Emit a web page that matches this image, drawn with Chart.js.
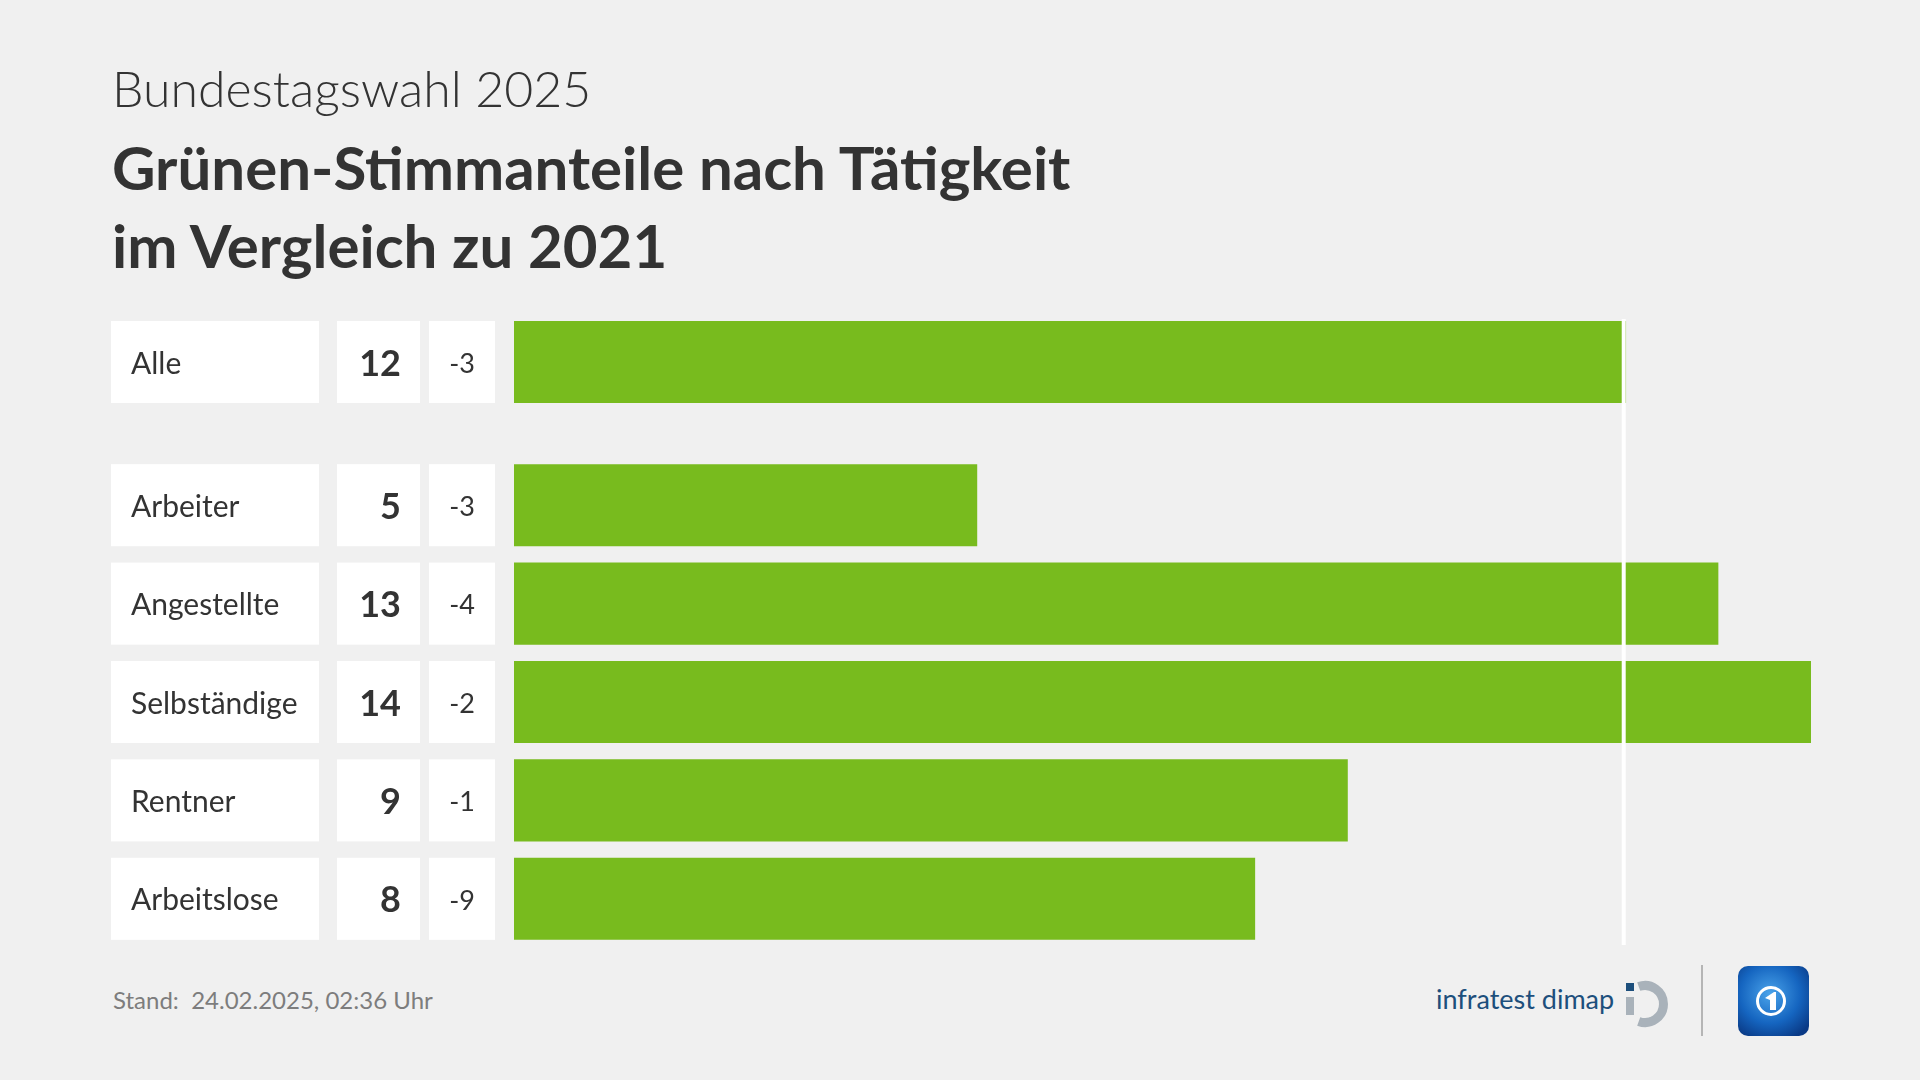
<!DOCTYPE html>
<html lang="de">
<head>
<meta charset="utf-8">
<title>Grünen-Stimmanteile nach Tätigkeit</title>
<script src="https://cdn.jsdelivr.net/npm/chart.js@4.4.1/dist/chart.umd.min.js"></script>
<style>
  body {
    margin: 0;
    width: 1920px;
    height: 1080px;
    background: #f0f0f0;
    font-family: Lato, "Noto Sans", sans-serif;
    color: #333;
    position: relative;
    overflow: hidden;
  }
  .subtitle {
    position: absolute;
    left: 112px;
    top: 58px;
    font-size: 50px;
    font-weight: 300;
    line-height: 60px;
  }
  .title {
    position: absolute;
    left: 112px;
    top: 128px;
    font-size: 60px;
    font-weight: 700;
    line-height: 78px;
  }
  .chart-box {
    position: absolute;
    left: 111px;
    width: 1700px;
  }
  #boxAlle { top: 313px; height: 143px; }
  #boxGroups { top: 456px; height: 492px; }
  .stand {
    position: absolute;
    left: 113px;
    top: 985px;
    font-size: 24px;
    color: #7d7d7d;
  }
  .logo {
    position: absolute;
    left: 1420px;
    top: 955px;
  }
</style>
</head>
<body>
<div class="subtitle">Bundestagswahl 2025</div>
<div class="title">Grünen-Stimmanteile nach Tätigkeit<br>im Vergleich zu 2021</div>

<div class="chart-box" id="boxAlle"><canvas id="chartAlle"></canvas></div>
<div class="chart-box" id="boxGroups"><canvas id="chartGroups"></canvas></div>

<div class="stand">Stand:&nbsp; 24.02.2025, 02:36 Uhr</div>

<svg class="logo" width="400" height="100" viewBox="0 0 400 100">
  <defs>
    <radialGradient id="globe" cx="0.45" cy="0.4" r="0.7">
      <stop offset="0" stop-color="#4aa3ea"/>
      <stop offset="0.6" stop-color="#1565c0"/>
      <stop offset="1" stop-color="#0a3a86"/>
    </radialGradient>
  </defs>
  <text x="16" y="54" font-family="Lato, sans-serif" font-size="27" fill="#1d4f7c">infratest dimap</text>
  <!-- iD-Zeichen -->
  <rect x="206" y="28" width="8" height="8" fill="#1d4f7c"/>
  <rect x="206" y="42" width="8" height="18" fill="#a9b2ba"/>
  <path d="M 218.7 31.6 A 18.5 18.5 0 1 1 218.7 66.4" fill="none" stroke="#a9b2ba" stroke-width="9"/>
  <line x1="282" y1="10" x2="282" y2="81" stroke="#b5b5b5" stroke-width="2"/>
  <!-- tagesschau -->
  <rect x="318" y="11" width="71" height="70" rx="10" fill="url(#globe)"/>
  <circle cx="351" cy="46" r="13.5" fill="none" stroke="#ffffff" stroke-width="3"/>
  <path d="M 345 43 L 354 37 L 356 37 L 356 55 L 350 55 L 350 45 Z" fill="#ffffff"/>
</svg>

<script>
// Daten
const alleLabel = ['Alle'];
const alleWerte = [12];
const alleDiff = ['-3'];

const gruppen = ['Arbeiter', 'Angestellte', 'Selbständige', 'Rentner', 'Arbeitslose'];
const gruppenWerte = [5, 13, 14, 9, 8];
const gruppenDiff = ['-3', '-4', '-2', '-1', '-9'];

const xMax = 14;
const referenz = alleWerte[0];

const gruen = '#78bb1e';

// Plugin : cases blanches (Label / Wert / Diff) à gauche des barres
const tabellePlugin = {
    id: 'tabelle',
    afterDatasetsDraw(chart, args, opts) {
        const ctx = chart.ctx;
        const meta = chart.getDatasetMeta(0);
        const labels = chart.data.labels;
        const werte = chart.data.datasets[0].data;
        const diffs = opts.diffs;

        meta.data.forEach(function(bar, i) {
            const p = bar.getProps(['y', 'height'], true);
            const top = p.y - p.height / 2;
            const h = p.height;
            const ty = p.y + 2;

            ctx.save();
            ctx.fillStyle = '#ffffff';
            ctx.fillRect(0, top, 208, h);
            ctx.fillRect(226, top, 83, h);
            ctx.fillRect(318, top, 66, h);

            ctx.fillStyle = '#333333';
            ctx.textBaseline = 'middle';

            ctx.font = '30px Lato, sans-serif';
            ctx.textAlign = 'left';
            ctx.fillText(labels[i], 20, ty);

            ctx.font = 'bold 36px Lato, sans-serif';
            ctx.textAlign = 'right';
            ctx.fillText(String(werte[i]), 290, ty);

            ctx.font = '27px Lato, sans-serif';
            ctx.textAlign = 'center';
            ctx.fillText(diffs[i], 351, ty);
            ctx.restore();
        });
    }
};

// Plugin : ligne blanche de référence (valeur "Alle")
const referenzPlugin = {
    id: 'referenz',
    afterDatasetsDraw(chart, args, opts) {
        const ctx = chart.ctx;
        const x = chart.scales.x.getPixelForValue(referenz) - 2;
        const area = chart.chartArea;
        const y1 = opts.start === 'area' ? area.top - 2 : 0;
        const y2 = opts.end === 'area' ? area.bottom - 3 : chart.height;
        ctx.save();
        ctx.strokeStyle = '#ffffff';
        ctx.lineWidth = 4;
        ctx.beginPath();
        ctx.moveTo(x, y1);
        ctx.lineTo(x, y2);
        ctx.stroke();
        ctx.restore();
    }
};

function makeChart(id, labels, werte, diffs, padding, barPct, linie) {
    const ctx = document.getElementById(id).getContext('2d');
    return new Chart(ctx, {
        type: 'bar',
        data: {
            labels: labels,
            datasets: [{
                data: werte,
                backgroundColor: gruen,
                borderWidth: 0,
                barPercentage: barPct,
                categoryPercentage: 1
            }]
        },
        options: {
            indexAxis: 'y',
            responsive: true,
            maintainAspectRatio: false,
            animation: false,
            layout: { padding: padding },
            scales: {
                x: { display: false, min: 0, max: xMax },
                y: { display: false }
            },
            plugins: {
                legend: { display: false },
                tooltip: { enabled: false },
                tabelle: { diffs: diffs },
                referenz: linie
            }
        },
        plugins: [tabellePlugin, referenzPlugin]
    });
}

document.fonts.ready.then(function() {
    makeChart('chartAlle', alleLabel, alleWerte, alleDiff,
        { left: 403, top: 8, bottom: 53, right: 0 }, 1,
        { start: 'area', end: 'canvas' });

    makeChart('chartGroups', gruppen, gruppenWerte, gruppenDiff,
        { left: 403, top: 0, bottom: 0, right: 0 }, 0.834,
        { start: 'canvas', end: 'area' });
});
</script>
</body>
</html>
